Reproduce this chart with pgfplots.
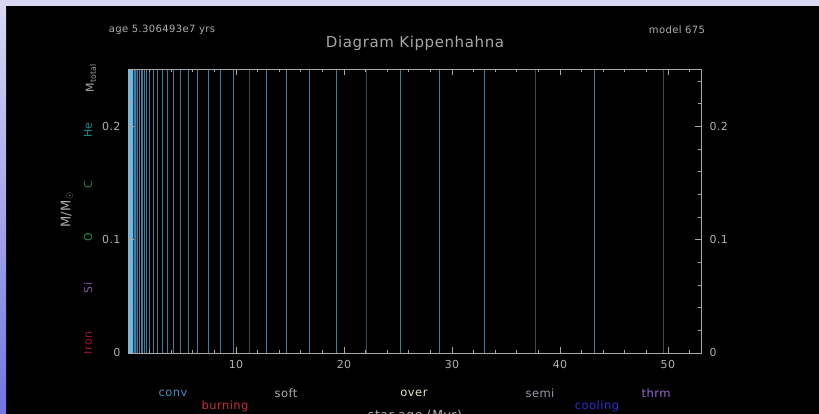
\documentclass[border=0pt]{standalone}
\usepackage{pgfplots}
\pgfplotsset{compat=1.18}
\usepackage{fontspec}
\setmainfont{DejaVu Sans}[LetterSpace=4]
\definecolor{lavtop}{HTML}{D8D8F4}
\definecolor{lavbot}{HTML}{7474E2}
\definecolor{axgray}{HTML}{A8A8A8}
\definecolor{txgray}{HTML}{B0B0B0}
\definecolor{fillblue}{HTML}{6CB8EC}
\definecolor{darkfill}{HTML}{22384A}
\definecolor{lineblue}{HTML}{427A9E}
\definecolor{linedark}{HTML}{3A4C58}
\definecolor{cconv}{HTML}{4E8CBA}
\definecolor{cburn}{HTML}{C83232}
\definecolor{cover}{HTML}{E6E6C8}
\definecolor{csemi}{HTML}{9A9AB0}
\definecolor{ccool}{HTML}{2E2ED2}
\definecolor{cthrm}{HTML}{9C64D2}
\definecolor{che}{HTML}{1A8C8C}
\definecolor{cc}{HTML}{3C7C4C}
\definecolor{co}{HTML}{2C8C4C}
\definecolor{csi}{HTML}{7C5CA2}
\definecolor{ciron}{HTML}{A01030}
\newcommand{\fs}[1]{\fontsize{#1}{#1}\selectfont}
\begin{document}
\begin{tikzpicture}
\clip (0,0) rectangle (819pt,414pt);
\fill[black] (0,0) rectangle (819pt,414pt);
\fill[lavtop] (0,408pt) rectangle (819pt,414pt);
\shade[top color=lavtop, bottom color=lavbot] (0,0) rectangle (6pt,408pt);

\begin{axis}[
  at={(128pt,61pt)}, anchor=south west, scale only axis,
  width=573pt, height=284pt,
  xmin=0, xmax=53.06, ymin=0, ymax=0.2507,
  axis on top,
  axis line style={color=axgray, line width=0.8pt},
  xtick={10,20,30,40,50}, xticklabels={10,20,30,40,50},
  minor xtick={2,4,6,8,12,14,16,18,22,24,26,28,32,34,36,38,42,44,46,48,52},
  ytick={0,0.1,0.2}, yticklabels={0,0.1,0.2},
  minor ytick={0.02,0.04,0.06,0.08,0.12,0.14,0.16,0.18,0.22,0.24},
  tick align=inside, major tick length=6pt, minor tick length=3pt,
  every tick/.style={color=axgray, line width=0.7pt},
  xtick pos=both, ytick pos=both,
  xticklabel pos=bottom, yticklabel pos=left,
  tick label style={font=\fs{11}, color=txgray},
  xticklabel style={yshift=-4pt},
  yticklabel style={xshift=-4pt},
]
\addplot[fill=fillblue, draw=none] coordinates {(0.08,0.2507)(0.46,0.2507)} \closedcycle;
\addplot[fill=darkfill, draw=none] coordinates {(0.46,0.2507)(0.83,0.2507)} \closedcycle;
\addplot[ycomb, color=lineblue, line width=0.85pt] coordinates {
(0.55,0.2507)(0.68,0.2507)
(0.86,0.2507)(1.05,0.2507)(1.20,0.2507)(1.36,0.2507)(1.51,0.2507)(1.67,0.2507)
(1.97,0.2507)(2.34,0.2507)(2.72,0.2507)(3.15,0.2507)(3.64,0.2507)(4.20,0.2507)
(4.88,0.2507)(5.59,0.2507)(6.42,0.2507)(7.44,0.2507)(8.55,0.2507)(9.76,0.2507)
(12.85,0.2507)(14.67,0.2507)(16.80,0.2507)(19.28,0.2507)(25.24,0.2507)
(28.85,0.2507)(33.02,0.2507)(43.22,0.2507)};
\addplot[ycomb, color=linedark, line width=0.85pt] coordinates {
(11.21,0.2507)(22.06,0.2507)(37.75,0.2507)(49.58,0.2507)};
\end{axis}

\begin{axis}[
  at={(128pt,61pt)}, anchor=south west, scale only axis,
  width=573pt, height=284pt,
  xmin=0, xmax=53.06, ymin=0, ymax=0.2507,
  hide x axis, axis y line*=right,
  axis line style={draw=none},
  ytick={0,0.1,0.2}, yticklabels={0,0.1,0.2},
  major tick length=0pt, minor tick num=0,
  yticklabel pos=right,
  tick label style={font=\fs{11}, color=txgray},
  yticklabel style={xshift=5pt},
]
\addplot[draw=none] coordinates {(0,0)(1,0.1)};
\end{axis}

% header texts
\node[color=txgray, font=\fs{10}] at (162pt,384pt) {age 5.306493e7 yrs};
\node[color=txgray, font=\fs{10}] at (677pt,384pt) {model 675};
\node[color=axgray, font=\fs{15}] at (415pt,371pt) {Diagram Kippenhahna};

% left side labels
\node[color=axgray, font=\fs{11}, rotate=90] at (91pt,336pt) {M\textsubscript{total}};
\node[color=che, font=\fs{11}, rotate=90] at (88pt,284pt) {He};
\node[color=cc, font=\fs{11}, rotate=90] at (88pt,229pt) {C};
\node[color=co, font=\fs{11}, rotate=90] at (88pt,177pt) {O};
\node[color=csi, font=\fs{11}, rotate=90] at (88pt,126pt) {Si};
\node[color=ciron, font=\fs{11}, rotate=90] at (88pt,71pt) {Iron};
\node[color=txgray, font=\fs{13}, rotate=90] at (67pt,204pt) {M/M$_\odot$};

% bottom legend texts
\node[color=cconv, font=\fs{11.5}] at (173pt,21pt) {conv};
\node[color=cburn, font=\fs{11.5}] at (225pt,8pt) {burning};
\node[color=txgray, font=\fs{11.5}] at (286pt,21pt) {soft};
\node[color=cover, font=\fs{11.5}] at (414pt,21pt) {over};
\node[color=csemi, font=\fs{11.5}] at (540pt,21pt) {semi};
\node[color=ccool, font=\fs{11.5}] at (597pt,8pt) {cooling};
\node[color=cthrm, font=\fs{11.5}] at (656pt,21pt) {thrm};
\node[color=txgray, font=\fs{12.5}, anchor=north] at (415pt,8pt) {star age (Myr)};
\end{tikzpicture}
\end{document}
